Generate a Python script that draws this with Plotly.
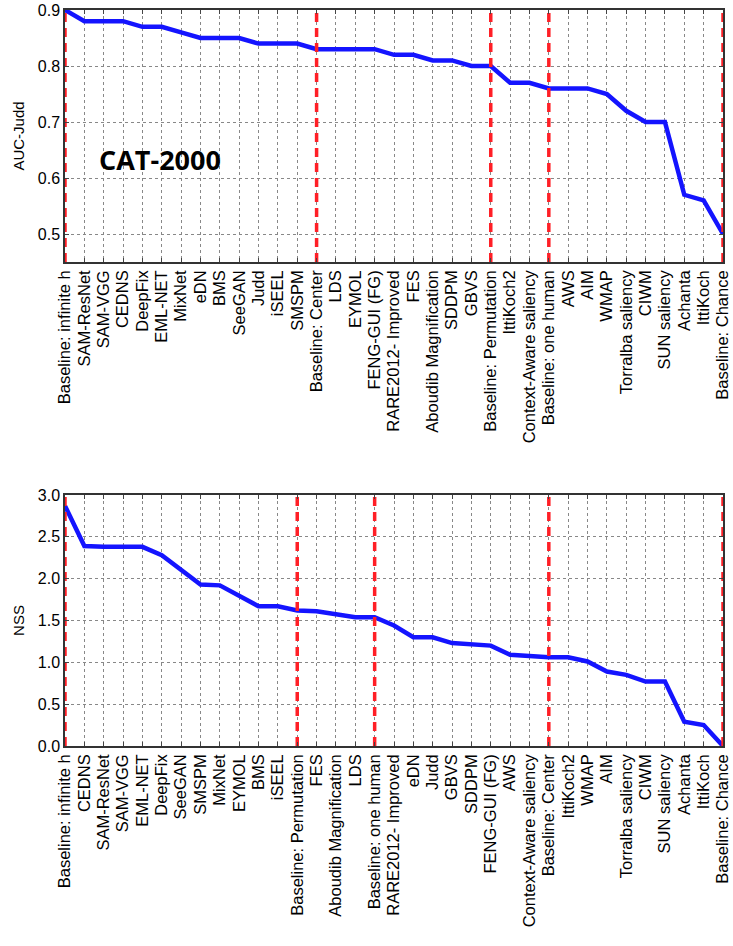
import plotly.graph_objects as go
from plotly.subplots import make_subplots

# AUC-Judd ranking on CAT-2000
auc_models = [
    "Baseline: infinite h", "SAM-ResNet", "SAM-VGG", "CEDNS", "DeepFix", "EML-NET",
    "MixNet", "eDN", "BMS", "SeeGAN", "Judd", "iSEEL", "SMSPM", "Baseline: Center",
    "LDS", "EYMOL", "FENG-GUI (FG)", "RARE2012- Improved", "FES", "Aboudib Magnification",
    "SDDPM", "GBVS", "Baseline: Permutation", "IttiKoch2", "Context-Aware saliency",
    "Baseline: one human", "AWS", "AIM", "WMAP", "Torralba saliency", "CIWM",
    "SUN saliency", "Achanta", "IttiKoch", "Baseline: Chance",
]
auc_values = [
    0.90, 0.88, 0.88, 0.88, 0.87, 0.87, 0.86, 0.85, 0.85, 0.85, 0.84, 0.84, 0.84, 0.83,
    0.83, 0.83, 0.83, 0.82, 0.82, 0.81, 0.81, 0.80, 0.80, 0.77, 0.77, 0.76, 0.76, 0.76,
    0.75, 0.72, 0.70, 0.70, 0.57, 0.56, 0.50,
]

# NSS ranking on CAT-2000
nss_models = [
    "Baseline: infinite h", "CEDNS", "SAM-ResNet", "SAM-VGG", "EML-NET", "DeepFix",
    "SeeGAN", "SMSPM", "MixNet", "EYMOL", "BMS", "iSEEL", "Baseline: Permutation",
    "FES", "Aboudib Magnification", "LDS", "Baseline: one human", "RARE2012- Improved",
    "eDN", "Judd", "GBVS", "SDDPM", "FENG-GUI (FG)", "AWS", "Context-Aware saliency",
    "Baseline: Center", "IttiKoch2", "WMAP", "AIM", "Torralba saliency", "CIWM",
    "SUN saliency", "Achanta", "IttiKoch", "Baseline: Chance",
]
nss_values = [
    2.87, 2.39, 2.38, 2.38, 2.38, 2.28, 2.11, 1.93, 1.92, 1.79, 1.67, 1.67, 1.62,
    1.61, 1.57, 1.54, 1.54, 1.44, 1.30, 1.30, 1.23, 1.22, 1.20, 1.09, 1.07,
    1.06, 1.06, 1.01, 0.89, 0.85, 0.77, 0.77, 0.29, 0.25, 0.00,
]

auc_range = [0.45, 0.9]
auc_ticks = [0.5, 0.6, 0.7, 0.8, 0.9]
nss_range = [0.0, 3.0]
nss_ticks = [0.0, 0.5, 1.0, 1.5, 2.0, 2.5, 3.0]

W, H = 733, 946
M_T, M_B, M_L, M_R = 10, 200, 65, 10
plot_h = H - M_T - M_B

fig = make_subplots(rows=2, cols=1)

BLUE = "#1414ff"
RED = "#ff1f26"
FONT = "Liberation Sans, Arial"

panels = [
    (1, auc_models, auc_values, auc_range, auc_ticks, "AUC-Judd", [(746 - 262) / plot_h, 1.0]),
    (2, nss_models, nss_values, nss_range, nss_ticks, "NSS", [0.0, (746 - 495) / plot_h]),
]

for row, models, values, yr, yt, title, dom in panels:
    fig.add_trace(
        go.Scatter(x=models, y=values, mode="lines",
                   line=dict(color=BLUE, width=4.5), showlegend=False),
        row=row, col=1,
    )
    # dashed markers for the baseline entries
    for name in models:
        if name.startswith("Baseline"):
            fig.add_trace(
                go.Scatter(x=[name, name], y=yr, mode="lines",
                           line=dict(color=RED, width=3.5, dash="9px,6px"),
                           showlegend=False, hoverinfo="skip"),
                row=row, col=1,
            )
    fig.update_xaxes(
        row=row, col=1,
        type="category", categoryorder="array", categoryarray=models,
        range=[0, len(models) - 1], automargin=False,
        tickmode="array", tickvals=models, ticktext=models,
        tickangle=-90, tickfont=dict(family=FONT, size=16.5, color="black"),
        ticks="inside", ticklen=4, tickcolor="#444",
        showline=True, linecolor="#333", linewidth=1.5, mirror="ticks",
        showgrid=True, gridcolor="#888", griddash="dot", gridwidth=1,
        zeroline=False,
    )
    fig.update_yaxes(
        row=row, col=1,
        range=yr, tickvals=yt, tickformat=".1f", automargin=False,
        tickfont=dict(family=FONT, size=16, color="black"),
        ticks="inside", ticklen=4, tickcolor="#444",
        showline=True, linecolor="#333", linewidth=1.5, mirror="ticks",
        showgrid=True, gridcolor="#888", griddash="dot", gridwidth=1,
        zeroline=False, domain=dom,
        title=dict(text=title, font=dict(family=FONT, size=15, color="black"),
                   standoff=10),
    )

fig.add_annotation(
    text="<b>CAT-2000</b>", xref="x domain", yref="y domain",
    x=(160 - M_L) / (W - M_L - M_R), y=(262 - 160) / (262 - 10),
    showarrow=False, xanchor="center", yanchor="middle",
    font=dict(family="Open Sans", size=27, color="black"),
)

fig.update_layout(
    width=W, height=H,
    margin=dict(l=M_L, r=M_R, t=M_T, b=M_B),
    plot_bgcolor="white", paper_bgcolor="white",
)

fig.write_html("out.html")
